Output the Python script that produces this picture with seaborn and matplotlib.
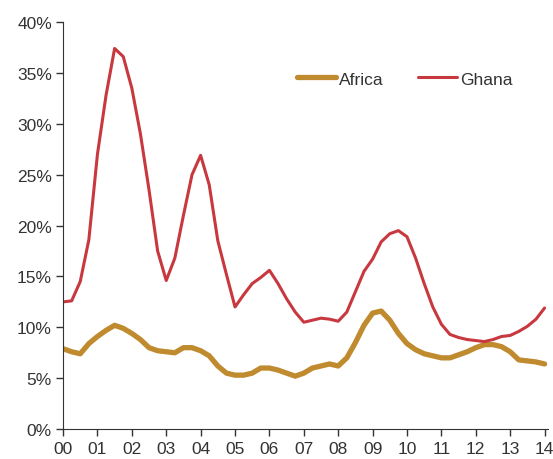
import numpy as np
import pandas as pd
import matplotlib.pyplot as plt
import seaborn as sns

# quarterly readings, 2000Q1 .. 2014Q1 (share, %)
years = ["00", "01", "02", "03", "04", "05", "06", "07",
         "08", "09", "10", "11", "12", "13", "14"]

ghana = [12.5, 12.6, 14.5, 18.6, 27.0, 32.8, 37.4, 36.6,
         33.5, 29.0, 23.5, 17.5, 14.6, 16.8, 21.0, 25.0,
         26.9, 24.0, 18.5, 15.2, 12.0, 13.2, 14.3, 14.9,
         15.6, 14.3, 12.8, 11.5, 10.5, 10.7, 10.9, 10.8,
         10.6, 11.5, 13.5, 15.5, 16.7, 18.4, 19.2, 19.5,
         18.9, 16.8, 14.3, 12.0, 10.3, 9.3, 9.0, 8.8,
         8.7, 8.6, 8.8, 9.1, 9.2, 9.6, 10.1, 10.8,
         11.9]

africa = [7.9, 7.6, 7.4, 8.4, 9.1, 9.7, 10.2, 9.9,
          9.4, 8.8, 8.0, 7.7, 7.6, 7.5, 8.0, 8.0,
          7.7, 7.2, 6.2, 5.5, 5.3, 5.3, 5.5, 6.0,
          6.0, 5.8, 5.5, 5.2, 5.5, 6.0, 6.2, 6.4,
          6.2, 7.0, 8.5, 10.2, 11.4, 11.6, 10.7, 9.4,
          8.4, 7.8, 7.4, 7.2, 7.0, 7.0, 7.3, 7.6,
          8.0, 8.3, 8.3, 8.1, 7.6, 6.8, 6.7, 6.6,
          6.4]

t = np.arange(len(ghana)) * 0.25
df = pd.concat([
    pd.DataFrame({"t": t, "value": africa, "series": "Africa"}),
    pd.DataFrame({"t": t, "value": ghana, "series": "Ghana"}),
])

sns.set_style("ticks")
plt.rcParams["font.family"] = ["Liberation Sans", "DejaVu Sans"]

fig = plt.figure(figsize=(5.53, 4.60), dpi=100)
ax = fig.add_axes([0.114, 0.065, 0.877, 0.885])

sns.lineplot(data=df, x="t", y="value", hue="series", size="series",
             palette={"Africa": "#C08A2E", "Ghana": "#C8383F"},
             sizes={"Africa": 3.8, "Ghana": 2.2}, ax=ax)

ax.set_xlim(0, 14.1)
ax.set_ylim(0, 40)
ax.set_xticks(range(len(years)))
ax.set_xticklabels(years)
ax.set_yticks(range(0, 41, 5))
ax.set_yticklabels([f"{v}%" for v in range(0, 41, 5)])
ax.set_xlabel("")
ax.set_ylabel("")
ax.tick_params(labelsize=12.5, colors="#333333", length=5, width=1)
ax.tick_params(axis="y", pad=3)
for s in ["left", "bottom"]:
    ax.spines[s].set_color("#333333")
sns.despine(ax=ax)

ax.legend(ncol=2, frameon=False, loc="center", bbox_to_anchor=(0.705, 0.86),
          fontsize=12.5, handlelength=2.2, columnspacing=2.0, handletextpad=0.2,
          labelcolor="#333333")

fig.savefig("out.png", dpi=100)
